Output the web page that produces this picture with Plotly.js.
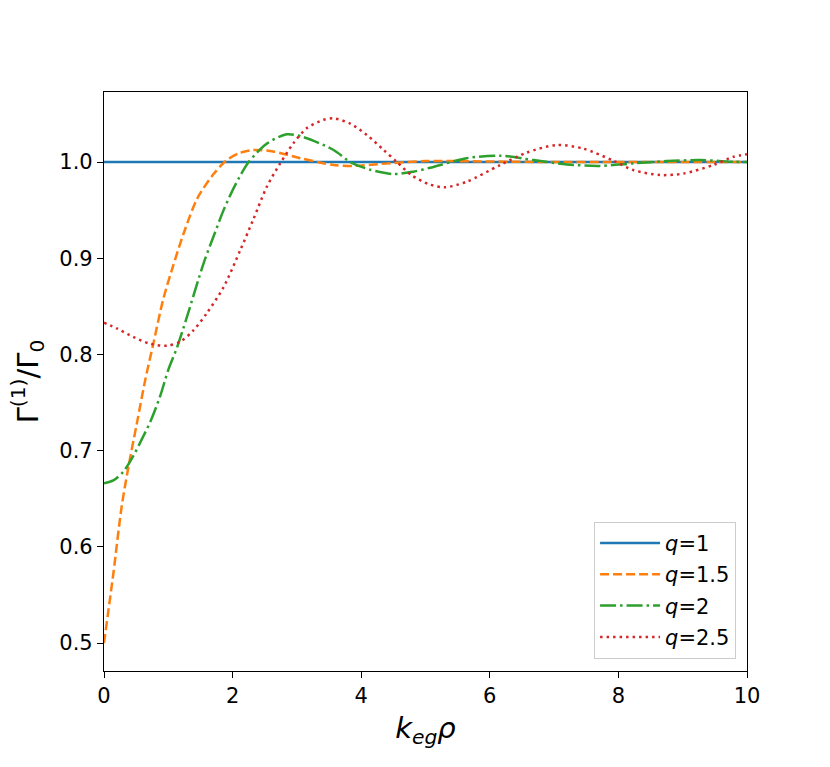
<!DOCTYPE html>
<html>
<head>
<meta charset="utf-8">
<script src="https://cdn.plot.ly/plotly-3.0.1.min.js"></script>
<style>
  body { margin: 0; background: #fff; }
  #gamma_plot { width: 830px; height: 767px; }
</style>
</head>
<body>
<div id="gamma_plot"></div>
<script>
// values
var k_q1 = [0, 10];
var g_q1 = [1.0, 1.0];

var k_q15 = [0, 0.145, 0.275, 0.38, 0.51, 0.64, 0.76, 0.92, 1.07, 1.24, 1.45, 1.71, 1.91, 2.12, 2.32, 2.63, 3.05, 3.57, 3.88, 4.3, 5.0, 6.0, 7.0, 8.0, 9.0, 10];
var g_q15 = [0.5, 0.572, 0.642, 0.683, 0.728, 0.773, 0.809, 0.857, 0.891, 0.926, 0.962, 0.988, 1.002, 1.0097, 1.0125, 1.011, 1.004, 0.997, 0.996, 0.998, 1.001, 1.0005, 1.0, 1.0, 1.0, 1.0];

var k_q2 = [0, 0.145, 0.3, 0.46, 0.56, 0.72, 0.87, 1.0, 1.14, 1.29, 1.55, 1.7, 1.86, 2.04, 2.25, 2.53, 2.84, 3.1, 3.57, 3.83, 4.14, 4.5, 4.81, 5.07, 5.64, 6.16, 6.68, 7.2, 7.71, 8.23, 8.75, 9.27, 9.79, 10];
var g_q2 = [0.666, 0.669, 0.678, 0.695, 0.708, 0.73, 0.756, 0.784, 0.808, 0.839, 0.895, 0.922, 0.95, 0.976, 1.0, 1.019, 1.0288, 1.026, 1.0125, 1.0, 0.992, 0.9875, 0.99, 0.994, 1.004, 1.0066, 1.002, 0.9975, 0.996, 0.9986, 1.001, 1.002, 1.0003, 1.0];

var k_q25 = [0, 0.2, 0.46, 0.72, 0.98, 1.18, 1.39, 1.6, 1.86, 2.12, 2.32, 2.53, 2.74, 2.94, 3.15, 3.41, 3.57, 3.83, 4.09, 4.35, 4.55, 4.78, 5.05, 5.3, 5.64, 6.16, 6.57, 7.04, 7.45, 7.92, 8.23, 8.65, 9.01, 9.48, 9.79, 10];
var g_q25 = [0.833, 0.827, 0.818, 0.811, 0.809, 0.813, 0.825, 0.843, 0.87, 0.9085, 0.94, 0.974, 0.9986, 1.019, 1.035, 1.0437, 1.0454, 1.04, 1.028, 1.0125, 1.0003, 0.9865, 0.977, 0.9737, 0.9795, 0.9969, 1.0097, 1.0177, 1.014, 1.0014, 0.9917, 0.9865, 0.988, 0.997, 1.0055, 1.008];

var names = ['<i>q</i>=1', '<i>q</i>=1.5', '<i>q</i>=2', '<i>q</i>=2.5'];

var lw = 2.5;
var data = [
  { x: k_q1, y: g_q1, name: names[0], legendgroup: 'a', mode: 'lines',
    line: { color: '#1f77b4', width: lw } },
  { x: k_q15, y: g_q15, name: names[1], legendgroup: 'b', mode: 'lines',
    line: { color: '#ff7f0e', width: lw, dash: '9px,4px', shape: 'spline', smoothing: 0.8 } },
  { x: k_q2, y: g_q2, name: names[2], legendgroup: 'c', mode: 'lines',
    line: { color: '#2ca02c', width: lw, dash: '16px,4px,2.5px,4px', shape: 'spline', smoothing: 0.8 } },
  { x: k_q25, y: g_q25, name: names[3], legendgroup: 'd', mode: 'lines',
    line: { color: '#d62728', width: lw, dash: '2.5px,4px', shape: 'spline', smoothing: 0.8 } }
];

var axisStyle = {
  showgrid: false, zeroline: false,
  showline: true, mirror: true, linecolor: '#000', linewidth: 1.2,
  ticks: 'outside', ticklen: 6, tickwidth: 1.2, tickcolor: '#000',
  tickfont: { family: 'DejaVu Sans', size: 21, color: '#000' }
};

var layout = {
  width: 830, height: 767,
  paper_bgcolor: '#fff', plot_bgcolor: '#fff',
  margin: { l: 104, r: 83, t: 92, b: 96 },
  font: { family: 'DejaVu Sans', color: '#000' },
  showlegend: true,
  legend: {
    x: 0.983, y: 0.021, xanchor: 'right', yanchor: 'bottom',
    bgcolor: 'rgba(255,255,255,0.8)', bordercolor: '#cccccc', borderwidth: 1,
    font: { family: 'DejaVu Sans', size: 21, color: '#000' },
    itemwidth: 60,
    tracegroupgap: 1
  },
  xaxis: Object.assign({}, axisStyle, {
    range: [0, 10], tickvals: [0, 2, 4, 6, 8, 10],
    title: { text: '<i>k</i><sub><i>eg</i></sub><i>ρ</i>', font: { family: 'DejaVu Sans', size: 29 }, standoff: 10 }
  }),
  yaxis: Object.assign({}, axisStyle, {
    range: [0.4709, 1.0728], tickvals: [0.5, 0.6, 0.7, 0.8, 0.9, 1.0], tickformat: '.1f',
    title: { text: 'Γ<sup>(1)</sup>/Γ<sub>0</sub>', font: { family: 'DejaVu Sans', size: 29 }, standoff: 12 }
  })
};

Plotly.newPlot('gamma_plot', data, layout, { displayModeBar: false });
</script>
</body>
</html>
